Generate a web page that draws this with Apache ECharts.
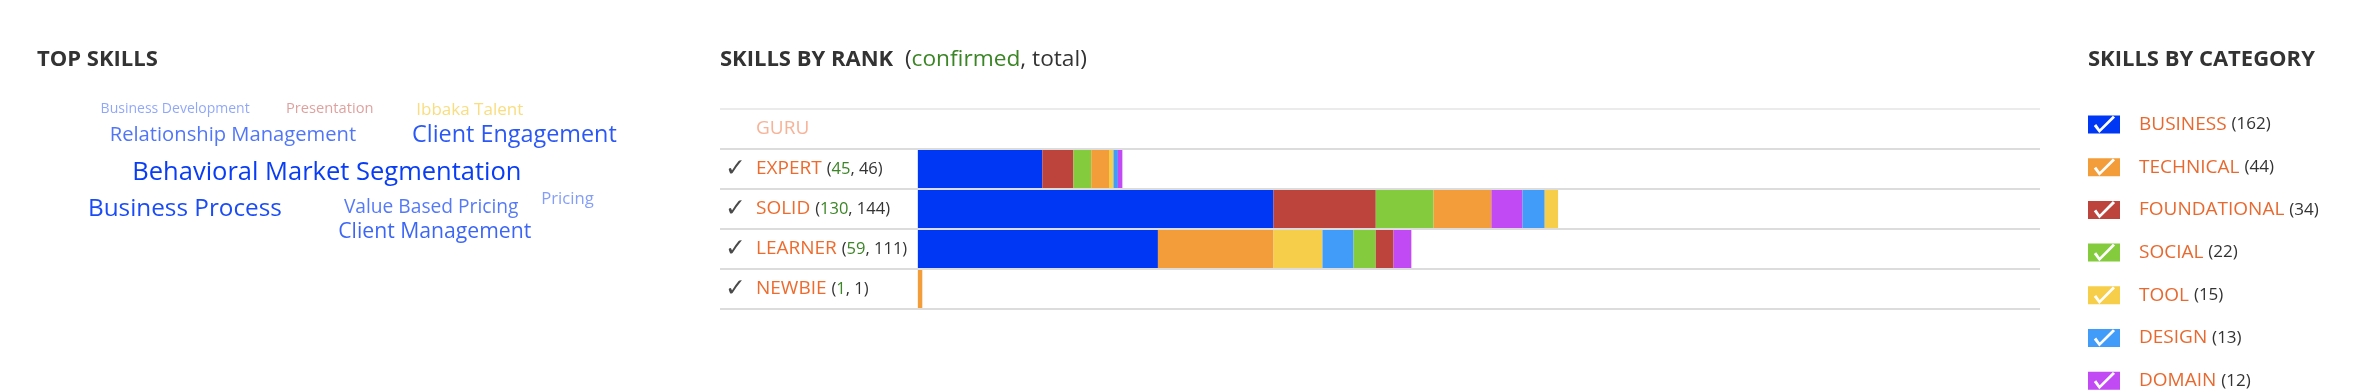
<!DOCTYPE html>
<html><head><meta charset="utf-8">
<script src="https://cdn.jsdelivr.net/npm/echarts@6/dist/echarts.min.js"></script>
<style>html,body{margin:0;padding:0;background:#fff}#c{width:2364px;height:392px}</style>
</head><body><div id="c"></div>
<script>
// ---------- data ----------
const ranks = ['GURU', 'EXPERT', 'SOLID', 'LEARNER', 'NEWBIE'];
const confirmedCounts = [null, 45, 130, 59, 1];
const categories = ['BUSINESS', 'TECHNICAL', 'FOUNDATIONAL', 'SOCIAL', 'TOOL', 'DESIGN', 'DOMAIN'];
const business     = [0, 28, 80, 54, 0];
const technical    = [0, 4, 13, 26, 1];
const foundational = [0, 7, 23, 4, 0];
const social       = [0, 4, 13, 5, 0];
const tool         = [0, 1, 3, 11, 0];
const design       = [0, 1, 5, 7, 0];
const domain       = [0, 1, 7, 4, 0];
const tieOrder = ['BUSINESS', 'FOUNDATIONAL', 'SOCIAL', 'TECHNICAL', 'TOOL', 'DESIGN', 'DOMAIN'];

const topSkills = ['Business Development', 'Presentation', 'Ibbaka Talent', 'Relationship Management',
  'Client Engagement', 'Behavioral Market Segmentation', 'Business Process', 'Value Based Pricing',
  'Pricing', 'Client Management'];
const topSkillCategory = ['BUSINESS', 'FOUNDATIONAL', 'TOOL', 'BUSINESS', 'BUSINESS', 'BUSINESS',
  'BUSINESS', 'BUSINESS', 'BUSINESS', 'BUSINESS'];
const topSkillWeight = [1.0, 1.7, 4.0, 7.2, 10.4, 12.5, 11.3, 6.2, 3.7, 8.2];

// ---------- styles / layout ----------
const catColors = {
  BUSINESS: '#0037f5', TECHNICAL: '#f29d3a', FOUNDATIONAL: '#bd433d', SOCIAL: '#84cb3e',
  TOOL: '#f7ce49', DESIGN: '#409cf8', DOMAIN: '#c24af4'
};
const FONT = "'Open Sans', sans-serif";
const catValues = [business, technical, foundational, social, tool, design, domain];
const totals = ranks.map((r, i) => catValues.reduce((s, a) => s + a[i], 0));
const catTotals = catValues.map(a => a.reduce((s, v) => s + v, 0));

// word-cloud placement (left x, baseline y) and opacity
const cloudPos = [[100.6, 114.5], [286, 114.5], [416.3, 116.5], [109.7, 143], [412, 144.5],
  [132.3, 182.2], [88, 218.2], [343.9, 214.8], [541.2, 206.2], [338.2, 239.8]];
const cloudAlpha = [0.44, 0.5, 0.7, 0.69, 0.835, 0.97, 0.9, 0.67, 0.49, 0.77];

function rgba(hex, a) {
  const n = parseInt(hex.slice(1), 16);
  return 'rgba(' + (n >> 16) + ',' + ((n >> 8) & 255) + ',' + (n & 255) + ',' + a + ')';
}

// per-rank sorted stacking (largest first)
const sortedPerRank = ranks.map((r, i) => {
  const items = categories.map((c, k) => ({ cat: c, v: catValues[k][i] }));
  items.sort((a, b) => (b.v - a.v) || (tieOrder.indexOf(a.cat) - tieOrder.indexOf(b.cat)));
  return items;
});

const slotSeries = categories.map((_, slot) => ({
  type: 'bar', name: 'slot' + slot, stack: 'rank', barWidth: 38, silent: true,
  data: ranks.map((r, i) => {
    const it = sortedPerRank[i][slot];
    return it.v > 0 ? { value: it.v, itemStyle: { color: catColors[it.cat] } } : '-';
  })
}));
const legendSeries = categories.map(c => ({
  type: 'bar', name: c, stack: 'rank', barWidth: 38, data: [], itemStyle: { color: catColors[c] }
}));

const checkIcon = 'path://M0,0L32,0L32,18L0,18Z M5.8,10.4L11.3,17.6L27.1,2L24.9,0.2L11.7,13.6L8.2,8.6Z';

const cloudGraphics = topSkills.map((w, i) => {
  const fs = 13 + topSkillWeight[i];
  return {
    type: 'text', x: cloudPos[i][0], y: cloudPos[i][1] - 0.388 * fs, silent: true,
    style: {
      text: w, font: fs + 'px ' + FONT, fill: rgba(catColors[topSkillCategory[i]], cloudAlpha[i]),
      textAlign: 'left', textVerticalAlign: 'middle'
    }
  };
});

const titleStyle = { fontFamily: FONT, fontWeight: 'bold', fontSize: 22, color: '#333', lineHeight: 26 };
const titleLight = { fontFamily: FONT, fontWeight: 'normal', fontSize: 22.7, color: '#333', lineHeight: 26 };

const chart = echarts.init(document.getElementById('c'), null, { renderer: 'canvas' });
chart.setOption({
  animation: false,
  backgroundColor: '#fff',
  title: [
    { text: 'TOP SKILLS', left: 37, top: 47, padding: 0, textStyle: titleStyle },
    {
      text: '{b|SKILLS BY RANK}{p|  (}{g|confirmed}{p|, total)}', left: 720, top: 47, padding: 0,
      textStyle: {
        fontWeight: 'normal',
        rich: {
          b: titleStyle,
          p: titleLight,
          g: Object.assign({}, titleLight, { color: '#3b8526' })
        }
      }
    },
    { text: 'SKILLS BY CATEGORY', left: 2088, top: 47, padding: 0, textStyle: titleStyle }
  ],
  grid: { left: 720, right: 324, top: 109, height: 200, containLabel: false },
  xAxis: {
    type: 'value', min: -44.5, max: 252.4, show: false
  },
  yAxis: {
    type: 'category', data: ranks, inverse: true,
    axisLine: { show: false }, axisTick: { show: false },
    splitLine: { show: true, lineStyle: { color: ['#ebebeb', '#dcdcdc', '#dcdcdc', '#dcdcdc', '#dcdcdc', '#dcdcdc'], width: 2 } },
    axisLabel: {
      inside: true, margin: 5, align: 'left',
      formatter: (v) => {
        const i = ranks.indexOf(v);
        if (confirmedCounts[i] == null) return '{blank|}{guru|' + v + '}';
        return '{chk|✓}{name|' + v + ' }{p|(}{c|' + confirmedCounts[i] + '}{p|, ' + totals[i] + ')}';
      },
      rich: {
        blank: { width: 31 },
        chk: { fontFamily: 'DejaVu Sans', fontSize: 25, color: '#4a4a4a', width: 31 },
        name: { fontFamily: FONT, fontSize: 19, color: '#ee6b2d' },
        guru: { fontFamily: FONT, fontSize: 19, color: '#f6b397' },
        p: { fontFamily: FONT, fontSize: 16.5, color: '#333' },
        c: { fontFamily: FONT, fontSize: 16.5, color: '#3b8526' }
      }
    }
  },
  legend: {
    data: categories, orient: 'vertical', left: 2088, top: 115, padding: 0,
    itemWidth: 32, itemHeight: 18, itemGap: 23.7, icon: checkIcon, selectedMode: false,
    formatter: name => '{n|' + name + ' }{c|(' + catTotals[categories.indexOf(name)] + ')}',
    textStyle: {
      padding: [0, 0, 0, 14], lineHeight: 18,
      rich: {
        n: { fontFamily: FONT, fontSize: 19, color: '#e8692f', lineHeight: 18 },
        c: { fontFamily: FONT, fontSize: 17, color: '#333', lineHeight: 18 }
      }
    }
  },
  graphic: cloudGraphics,
  series: slotSeries.concat(legendSeries)
});
</script></body></html>
